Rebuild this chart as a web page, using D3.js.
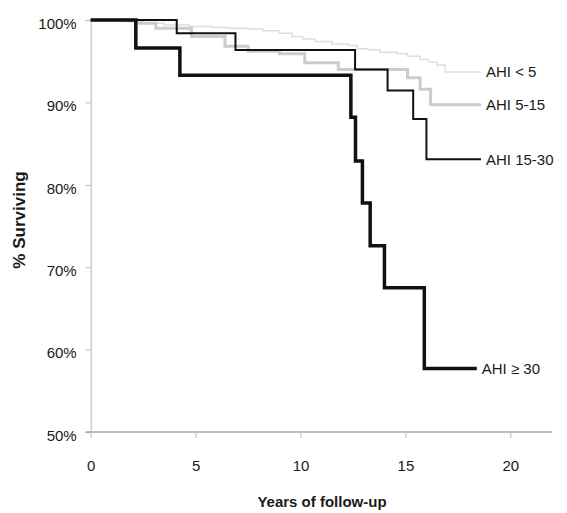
<!DOCTYPE html>
<html>
<head>
<meta charset="utf-8">
<script src="https://cdn.jsdelivr.net/npm/d3@7"></script>
<style>
  body { margin: 0; background: #fff; }
  text { font-family: "Liberation Sans", Arial, sans-serif; fill: #1a1a1a; }
</style>
</head>
<body>
<svg id="chart"></svg>
<script>
const groups = ["AHI < 5", "AHI 5-15", "AHI 15-30", "AHI \u2265 30"];

const ahiLt5Years = [0, 1.5, 2.5, 3.5, 4.7, 5.8, 6.6, 7.5, 8.2, 9.0, 9.6, 10.1, 10.7, 11.5, 12.3, 12.7, 13.2, 13.8, 14.6, 15.1, 15.7, 16.1, 16.5, 16.9, 18.6];
const ahiLt5Surv = [100, 99.8, 99.6, 99.4, 99.2, 99.1, 99.0, 98.9, 98.7, 98.4, 98.0, 97.7, 97.4, 97.1, 96.9, 96.5, 96.4, 96.1, 95.9, 95.6, 95.2, 94.9, 94.5, 93.7, 93.7];

const ahi5to15Years = [0, 2.2, 3.1, 4.8, 6.4, 7.5, 9.0, 10.2, 11.8, 15.1, 15.7, 16.2, 18.6];
const ahi5to15Surv = [100, 99.6, 99.0, 98.0, 96.8, 96.2, 95.9, 94.8, 94.0, 93.0, 91.6, 89.7, 89.7];

const ahi15to30Years = [0, 4.1, 6.9, 12.6, 14.15, 15.37, 16.0, 18.6];
const ahi15to30Surv = [100, 98.4, 96.35, 94.0, 91.45, 88.0, 83.1, 83.1];

const ahiGe30Years = [0, 2.15, 4.25, 12.4, 12.62, 12.95, 13.32, 14.0, 15.9, 18.4];
const ahiGe30Surv = [100, 96.6, 93.3, 88.2, 82.9, 77.8, 72.6, 67.5, 57.7, 57.7];

const xTicks = [0, 5, 10, 15, 20];
const yTicks = [50, 60, 70, 80, 90, 100];

const width = 567, height = 513;
const svg = d3.select("#chart").attr("width", width).attr("height", height);

const x = d3.scaleLinear().domain([0, 22]).range([90.7, 552.3]);
const y = d3.scaleLinear().domain([50, 100]).range([432, 20]);

// y axis
const yAxis = svg.append("g")
  .attr("transform", `translate(${x(0)},0)`)
  .call(d3.axisLeft(y).tickValues(yTicks).tickFormat((d) => d + "%").tickSize(5).tickPadding(9));
yAxis.select(".domain").attr("stroke", "#cfcfcf").attr("stroke-width", 1.5);
yAxis.selectAll(".tick line").attr("stroke", "#bdbdbd");
yAxis.selectAll(".tick text").attr("font-size", 15).attr("dy", "0.55em");

// x axis
const xAxis = svg.append("g")
  .attr("transform", `translate(0,${y(50)})`)
  .call(d3.axisBottom(x).tickValues(xTicks).tickSize(6).tickPadding(22).tickSizeOuter(0));
xAxis.select(".domain").attr("stroke", "#a8a8a8").attr("stroke-width", 1.5)
  .attr("d", `M${x(0) - 5},0H${x(22)}`);
xAxis.selectAll(".tick line").attr("stroke", "#bdbdbd");
xAxis.selectAll(".tick text").attr("font-size", 15);

// axis titles
svg.append("text")
  .attr("x", 322).attr("y", 503)
  .attr("text-anchor", "middle")
  .attr("dominant-baseline", "middle")
  .attr("font-size", 15).attr("font-weight", "bold")
  .text("Years of follow-up");

svg.append("text")
  .attr("transform", "translate(21,220) rotate(-90)")
  .attr("text-anchor", "middle")
  .attr("dominant-baseline", "middle")
  .attr("font-size", 17).attr("font-weight", "bold")
  .text("% Surviving");

const series = [
  { name: groups[0], years: ahiLt5Years, surv: ahiLt5Surv, color: "#dcdfdf", w: 1.5 },
  { name: groups[1], years: ahi5to15Years, surv: ahi5to15Surv, color: "#c9cdcd", w: 3 },
  { name: groups[2], years: ahi15to30Years, surv: ahi15to30Surv, color: "#111", w: 2 },
  { name: groups[3], years: ahiGe30Years, surv: ahiGe30Surv, color: "#111", w: 3.5 },
];

const line = d3.line()
  .x((d) => x(d[0]))
  .y((d) => y(d[1]))
  .curve(d3.curveStepAfter);

svg.append("g")
  .selectAll("path")
  .data(series)
  .enter()
  .append("path")
  .attr("d", (d) => line(d.years.map((t, i) => [t, d.surv[i]])))
  .attr("fill", "none")
  .attr("stroke", (d) => d.color)
  .attr("stroke-width", (d) => d.w);

svg.append("g")
  .selectAll("text")
  .data(series)
  .enter()
  .append("text")
  .attr("x", (d) => x(d.years[d.years.length - 1]) + 5)
  .attr("y", (d) => y(d.surv[d.surv.length - 1]) + 1.5)
  .attr("dominant-baseline", "middle")
  .attr("font-size", 15)
  .text((d) => d.name);
</script>
</body>
</html>
